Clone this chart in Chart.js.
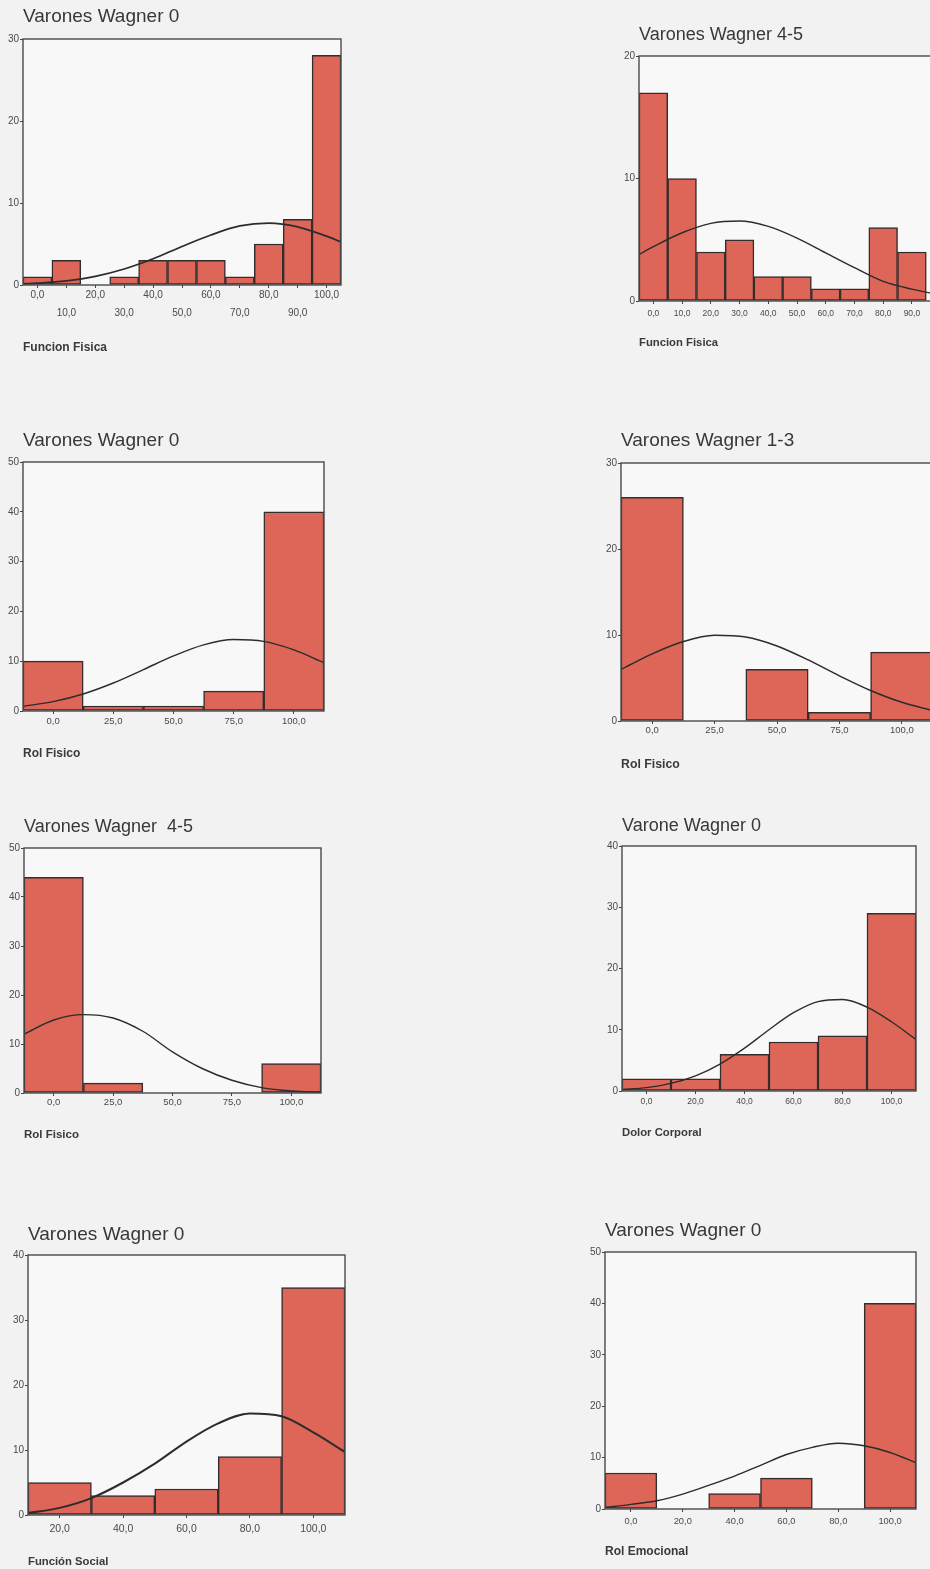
<!DOCTYPE html>
<html>
<head>
<meta charset="utf-8">
<title>Histogramas SF-36 por grado Wagner</title>
<script src="https://cdn.jsdelivr.net/npm/chart.js@4.4.1/dist/chart.umd.min.js"></script>
<style>
  html, body { margin: 0; padding: 0; background: #f2f2f2; width: 930px; height: 1569px; overflow: hidden; }
  canvas { position: absolute; }
</style>
</head>
<body>
<script>
// ---- Funcion Fisica, varones Wagner 0 ----
const ffW0Labels = ['0,0', '10,0', '20,0', '30,0', '40,0', '50,0', '60,0', '70,0', '80,0', '90,0', '100,0'];
const ffW0Counts = [1, 3, 0, 1, 3, 3, 3, 1, 5, 8, 28];
const ffW0CurveX = [-5, 0, 10, 20, 30, 40, 50, 60, 70, 80, 90, 100, 105];
const ffW0CurveY = [0.14, 0.22, 0.5, 1.05, 1.95, 3.2, 4.7, 6.1, 7.2, 7.55, 7.1, 5.95, 5.25];

// ---- Funcion Fisica, varones Wagner 4-5 ----
const ffW45Labels = ['0,0', '10,0', '20,0', '30,0', '40,0', '50,0', '60,0', '70,0', '80,0', '90,0', '100,0'];
const ffW45Counts = [17, 10, 4, 5, 2, 2, 1, 1, 6, 4, 0];
const ffW45CurveX = [-5, 0, 10, 20, 30, 40, 50, 60, 70, 80, 90, 100, 105];
const ffW45CurveY = [3.8, 4.43, 5.57, 6.34, 6.53, 6.09, 5.14, 3.93, 2.72, 1.6, 0.97, 0.5, 0.34];

// ---- Rol Fisico, varones Wagner 0 ----
const rfW0Labels = ['0,0', '25,0', '50,0', '75,0', '100,0'];
const rfW0Counts = [10, 1, 1, 4, 40];
const rfW0CurveX = [-12.5, 0, 12.5, 25, 37.5, 50, 62.5, 75, 87.5, 100, 112.5];
const rfW0CurveY = [0.93, 1.88, 3.42, 5.62, 8.31, 11.06, 13.28, 14.35, 13.98, 12.27, 9.7];

// ---- Rol Fisico, varones Wagner 1-3 ----
const rfW13Labels = ['0,0', '25,0', '50,0', '75,0', '100,0'];
const rfW13Counts = [26, 0, 6, 1, 8];
const rfW13CurveX = [-12.5, 0, 12.5, 25, 37.5, 50, 62.5, 75, 87.5, 100, 112.5];
const rfW13CurveY = [6.0, 7.81, 9.24, 9.96, 9.77, 8.73, 7.1, 5.25, 3.54, 2.17, 1.21];

// ---- Rol Fisico, varones Wagner 4-5 ----
const rfW45Labels = ['0,0', '25,0', '50,0', '75,0', '100,0'];
const rfW45Counts = [44, 2, 0, 0, 6];
const rfW45CurveX = [-12.5, 0, 12.5, 25, 37.5, 50, 62.5, 75, 87.5, 100, 112.5];
const rfW45CurveY = [12.0, 14.9, 16.0, 15.3, 12.6, 8.4, 5.0, 2.6, 1.1, 0.4, 0.12];

// ---- Dolor Corporal, varones Wagner 0 ----
const dcW0Labels = ['0,0', '20,0', '40,0', '60,0', '80,0', '100,0'];
const dcW0Counts = [2, 2, 6, 8, 9, 29];
const dcW0CurveX = [-10, 0, 10, 20, 30, 40, 50, 60, 70, 80, 90, 100, 110];
const dcW0CurveY = [0.22, 0.56, 1.24, 2.47, 4.4, 7.0, 10.0, 12.78, 14.6, 14.93, 13.7, 11.3, 8.4];

// ---- Funcion Social, varones Wagner 0 ----
const fsW0Labels = ['20,0', '40,0', '60,0', '80,0', '100,0'];
const fsW0Counts = [5, 3, 4, 9, 35];
const fsW0CurveX = [10, 20, 30, 40, 50, 60, 70, 80, 90, 100, 110];
const fsW0CurveY = [0.3, 1.1, 2.6, 5.0, 7.9, 11.3, 14.1, 15.6, 15.2, 12.7, 9.7];

// ---- Rol Emocional, varones Wagner 0 ----
const reW0Labels = ['0,0', '20,0', '40,0', '60,0', '80,0', '100,0'];
const reW0Counts = [7, 0, 3, 6, 0, 40];
const reW0CurveX = [-10, 0, 10, 20, 30, 40, 50, 60, 70, 80, 90, 100, 110];
const reW0CurveY = [0.3, 0.9, 1.6, 2.9, 4.6, 6.4, 8.5, 10.6, 12.0, 12.8, 12.3, 11.0, 9.0];

// ---- panel layout (plot box in page pixels, text placement) ----
const panels = [
  { title: 'Varones Wagner 0', axis: 'Funcion Fisica', labels: ffW0Labels, counts: ffW0Counts, cx: ffW0CurveX, cy: ffW0CurveY, yMax: 30,
    box: { L: 23, T: 39, R: 341, B: 285 }, titleSize: 19, titleBase: 23, nameSize: 12, nameMid: 348, tickSize: 10, tickMid: 295, stagger: true, curveW: 1.8 },
  { title: 'Varones Wagner 4-5', axis: 'Funcion Fisica', labels: ffW45Labels, counts: ffW45Counts, cx: ffW45CurveX, cy: ffW45CurveY, yMax: 20,
    box: { L: 639, T: 56, R: 955, B: 301 }, titleSize: 18, titleBase: 41, nameSize: 11.3, nameMid: 343, tickSize: 8.5, tickMid: 314, curveW: 1.4 },
  { title: 'Varones Wagner 0', axis: 'Rol Fisico', labels: rfW0Labels, counts: rfW0Counts, cx: rfW0CurveX, cy: rfW0CurveY, yMax: 50,
    box: { L: 23, T: 462, R: 324, B: 711 }, titleSize: 19, titleBase: 447, nameSize: 12, nameMid: 754, tickSize: 9.5, tickMid: 721, curveW: 1.4 },
  { title: 'Varones Wagner 1-3', axis: 'Rol Fisico', labels: rfW13Labels, counts: rfW13Counts, cx: rfW13CurveX, cy: rfW13CurveY, yMax: 30,
    box: { L: 621, T: 463, R: 933, B: 721 }, titleSize: 19, titleBase: 447, nameSize: 12.3, nameMid: 765, tickSize: 9.5, tickMid: 730, curveW: 1.5 },
  { title: 'Varones Wagner  4-5', axis: 'Rol Fisico', labels: rfW45Labels, counts: rfW45Counts, cx: rfW45CurveX, cy: rfW45CurveY, yMax: 50,
    box: { L: 24, T: 848, R: 321, B: 1093 }, titleSize: 18, titleBase: 833, nameSize: 11.5, nameMid: 1135, tickSize: 9.5, tickMid: 1102, curveW: 1.4 },
  { title: 'Varone Wagner 0', axis: 'Dolor Corporal', labels: dcW0Labels, counts: dcW0Counts, cx: dcW0CurveX, cy: dcW0CurveY, yMax: 40,
    box: { L: 622, T: 846, R: 916, B: 1091 }, titleSize: 18, titleBase: 832, nameSize: 11.3, nameMid: 1133, tickSize: 8.5, tickMid: 1102, curveW: 1.4 },
  { title: 'Varones Wagner 0', axis: 'Función Social', labels: fsW0Labels, counts: fsW0Counts, cx: fsW0CurveX, cy: fsW0CurveY, yMax: 40,
    box: { L: 28, T: 1255, R: 345, B: 1515 }, titleSize: 19, titleBase: 1241, nameSize: 11.3, nameMid: 1562, tickSize: 10.5, tickMid: 1529, curveW: 2 },
  { title: 'Varones Wagner 0', axis: 'Rol Emocional', labels: reW0Labels, counts: reW0Counts, cx: reW0CurveX, cy: reW0CurveY, yMax: 50,
    box: { L: 605, T: 1252, R: 916, B: 1509 }, titleSize: 19, titleBase: 1237, nameSize: 12, nameMid: 1552, tickSize: 9.3, tickMid: 1521, curveW: 1.4 }
];

const FONT = "'Liberation Sans', Arial, Helvetica, sans-serif";
Chart.defaults.font.family = FONT;
Chart.defaults.color = '#4a4a4a';

// plot background and the closed frame around each histogram
const framePlugin = {
  id: 'frame',
  beforeDraw(chart) {
    const { ctx, chartArea: a } = chart;
    ctx.save();
    ctx.fillStyle = '#f8f8f8';
    ctx.fillRect(a.left, a.top, a.right - a.left, a.bottom - a.top);
    ctx.restore();
  },
  afterDatasetsDraw(chart) {
    const { ctx, chartArea: a } = chart;
    ctx.save();
    ctx.strokeStyle = '#4a4a4a';
    ctx.lineWidth = 1.4;
    ctx.strokeRect(a.left, a.top, a.right - a.left, a.bottom - a.top);
    ctx.restore();
  }
};

const Y_W = 24, PAD_R = 4, TICK_LEN = 3;

panels.forEach(p => {
  const b = p.box;
  const titleLH = 1.2 * p.titleSize;
  const top = Math.round(p.titleBase - 0.9465 * p.titleSize);
  const titleGap = b.T - top - titleLH;
  const nameLH = 1.2 * p.nameSize;
  const xH = Math.round(p.nameMid - b.B + nameLH / 2);
  const width = b.R - b.L + Y_W + PAD_R;
  const height = b.B - top + xH;
  const tickLH = p.stagger ? 1.8 : 1.2;
  const tickPad = (p.tickMid - b.B) - TICK_LEN - (tickLH * p.tickSize) / 2;

  const canvas = document.createElement('canvas');
  canvas.width = width;
  canvas.height = height;
  canvas.style.left = (b.L - Y_W) + 'px';
  canvas.style.top = top + 'px';
  canvas.style.width = width + 'px';
  canvas.style.height = height + 'px';
  document.body.appendChild(canvas);

  new Chart(canvas, {
    type: 'bar',
    data: {
      labels: p.labels,
      datasets: [
        {
          type: 'line',
          data: p.cx.map((x, i) => ({ x: x, y: p.cy[i] })),
          xAxisID: 'xc',
          yAxisID: 'y',
          borderColor: '#2c2c2c',
          borderWidth: p.curveW,
          pointRadius: 0,
          cubicInterpolationMode: 'monotone',
          fill: false,
          order: 0
        },
        {
          type: 'bar',
          data: p.counts,
          xAxisID: 'x',
          yAxisID: 'y',
          backgroundColor: '#de6658',
          borderColor: '#352c2c',
          borderWidth: 1.5,
          borderSkipped: false,
          grouped: false,
          barPercentage: 1,
          categoryPercentage: 1,
          order: 1
        }
      ]
    },
    options: {
      responsive: false,
      animation: false,
      devicePixelRatio: 1,
      layout: { padding: { left: 0, right: PAD_R, top: 0, bottom: 0 } },
      plugins: {
        legend: { display: false },
        tooltip: { enabled: false },
        title: {
          display: true,
          text: p.title,
          align: 'start',
          fullSize: false,
          color: '#383838',
          font: { family: FONT, size: p.titleSize, weight: 'normal', lineHeight: 1.2 },
          padding: { top: 0, bottom: titleGap }
        }
      },
      scales: {
        x: {
          type: 'category',
          offset: true,
          border: { display: false },
          grid: { display: true, drawOnChartArea: false, drawTicks: true, tickLength: TICK_LEN, color: '#444', offset: false },
          ticks: {
            autoSkip: false,
            maxRotation: 0,
            minRotation: 0,
            padding: tickPad,
            color: '#4a4a4a',
            font: { family: FONT, size: p.tickSize, lineHeight: tickLH },
            callback: function (v, i) {
              const l = this.getLabelForValue(v);
              return p.stagger && i % 2 ? ['', l] : l;
            }
          },
          title: {
            display: true,
            text: p.axis,
            align: 'start',
            color: '#3a3a3a',
            padding: { top: 0, bottom: 0 },
            font: { family: FONT, size: p.nameSize, weight: 'bold', lineHeight: 1.2 }
          },
          afterFit: s => { s.height = xH; }
        },
        xc: {
          type: 'linear',
          display: false,
          offset: false,
          grid: { offset: false },
          bounds: 'data',
          min: p.cx[0],
          max: p.cx[p.cx.length - 1]
        },
        y: {
          min: 0,
          max: p.yMax,
          border: { display: false },
          grid: { display: true, drawOnChartArea: false, drawTicks: true, tickLength: TICK_LEN, color: '#444' },
          ticks: { stepSize: 10, padding: 1, color: '#4a4a4a', font: { family: FONT, size: 10 } },
          afterFit: s => { s.width = Y_W; }
        }
      }
    },
    plugins: [framePlugin]
  });
});
</script>
</body>
</html>
